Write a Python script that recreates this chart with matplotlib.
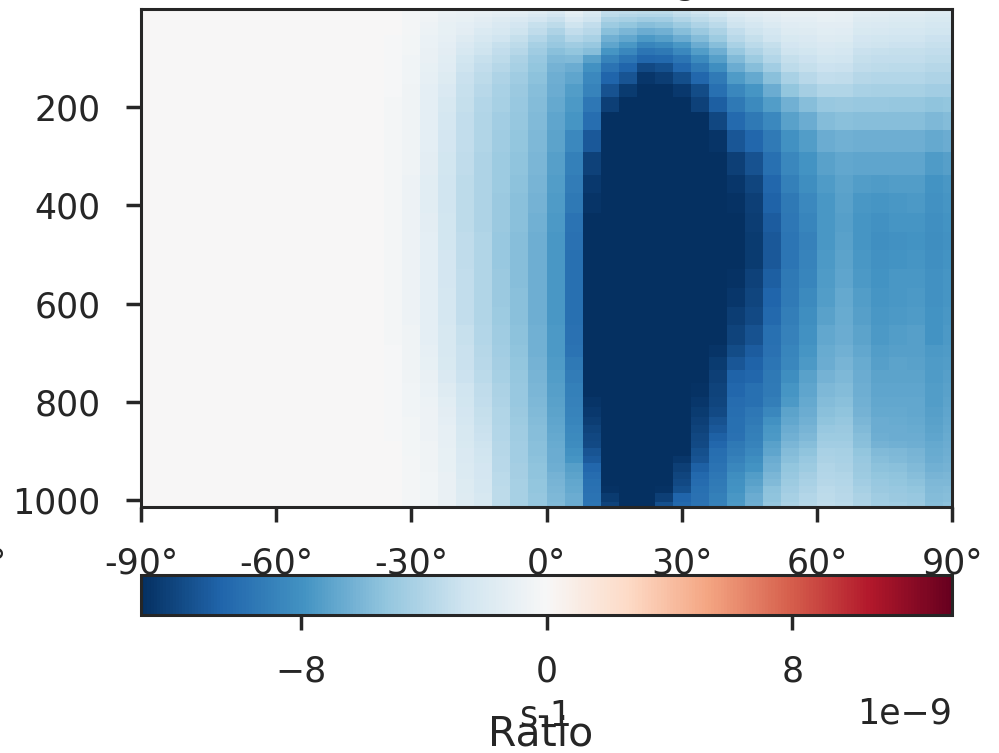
import numpy as np
import matplotlib
matplotlib.use('Agg')
import matplotlib.pyplot as plt

# --- values, in units of 1e-9 s-1. ---
lat = np.arange(-90, 91, 4)

# pressure edges of the cells, top to bottom (hPa)
plev_edges = [0.5, 10.7, 16.8, 27, 39.2, 53.4, 67.7, 79.9, 94.1, 110.4, 128.8,
              153.2, 179.6, 210.2, 246.8, 291.6, 338.4, 375.1, 415.8, 454.5,
              491.1, 529.8, 568.4, 607.1, 643.8, 684.5, 708.9, 735.4, 761.8,
              790.3, 810.7, 831, 847.3, 863.6, 879.9, 894.1, 910.4, 924.7,
              943, 957.2, 971.5, 985.8, 1004, 1014]

# one list per latitude, from the top level down
ratio_by_lat = [
 [0,0,0,0,0,0,0,0,0,0,0,0,0,0,0,0,0,0,0,0,0,0,0,0,0,0,0,0,0,0,0,0,0,0,0,0,0,0,0,0,0,0,0],
 [0,0,0,0,0,0,0,0,0,0,0,0,0,0,0,0,0,0,0,0,0,0,0,0,0,0,0,0,0,0,0,0,0,0,0,0,0,0,0,0,0,0,0],
 [0,0,0,0,0,0,0,0,0,0,0,0,0,0,0,0,0,0,0,0,0,0,0,0,0,0,0,0,0,0,0,0,0,0,0,0,0,0,0,0,0,0,0],
 [0,0,0,0,0,0,0,0,0,0,0,0,0,0,0,0,0,0,0,0,0,0,0,0,0,0,0,0,0,0,0,0,0,0,0,0,0,0,0,0,0,0,0],
 [0,0,0,0,0,0,0,0,0,0,0,0,0,0,0,0,0,0,0,0,0,0,0,0,0,0,0,0,0,0,0,0,0,0,0,0,0,0,0,0,0,0,0],
 [0,0,0,0,0,0,0,0,0,0,0,0,0,0,0,0,0,0,0,0,0,0,0,0,0,0,0,0,0,0,0,0,0,0,0,0,0,0,0,0,0,0,0],
 [0,0,0,0,0,0,0,0,0,0,0,0,0,0,0,0,0,0,0,0,0,0,0,0,0,0,0,0,0,0,0,0,0,0,0,0,0,0,0,0,0,0,0],
 [0,0,0,0,0,0,0,0,0,0,0,0,0,0,0,0,0,0,0,0,0,0,0,0,0,0,0,0,0,0,0,0,0,0,0,0,0,0,0,0,0,0,0],
 [0,0,0,0,0,0,0,0,0,0,0,0,0,0,0,0,0,0,0,0,0,0,0,0,0,0,0,0,0,0,0,0,0,0,0,0,0,0,0,0,0,0,0],
 [0,0,0,0,0,0,0,0,0,0,0,0,0,0,0,0,0,0,0,0,0,0,.1,.1,.1,.1,.1,.1,.1,.1,.1,0,0,0,0,0,0,0,0,0,0,0,0],
 [0,0,0,0,0,0,0,0,0,0,0,0,0,0,0,0,0,0,0,.1,.1,.1,.1,.1,.1,.1,.1,.1,.1,.1,.1,.1,.1,.1,.1,.1,.1,.1,.1,.1,.1,.1,.1],
 [0,0,0,0,0,0,0,0,0,0,0,0,0,0,0,0,0,0,0,.1,.1,.1,.1,.1,.1,.1,.1,.1,.1,.1,.1,.1,.1,.1,.1,.1,.1,.1,.1,.1,.1,.1,.1],
 [0,0,0,0,0,0,0,0,0,0,0,0,0,0,0,0,0,0,0,0,0,.1,.1,.1,.1,.1,.1,.1,.1,.1,.1,.1,.1,.1,.1,.1,.1,.1,.1,.1,.1,.1,.1],
 [0,0,0,0,0,0,0,0,0,0,0,0,0,0,0,0,0,0,0,0,0,0,0,0,0,0,0,0,0,0,0,0,0,0,0,0,0,0,0,0,0,0,0],
 [0,0,0,0,0,-.2,-.2,-.2,-.2,-.2,-.2,-.2,-.3,-.3,-.3,-.3,-.3,-.3,-.3,-.3,-.3,-.3,-.3,-.3,-.3,-.2,-.2,-.2,-.2,-.2,-.2,-.2,-.2,-.2,0,0,0,0,0,0,0,0,0],
 [-.3,-.3,-.3,-.3,-.3,-.4,-.4,-.4,-.5,-.5,-.5,-.6,-.6,-.6,-.6,-.6,-.7,-.7,-.7,-.7,-.7,-.7,-.7,-.7,-.6,-.6,-.6,-.6,-.5,-.5,-.5,-.4,-.4,-.4,-.4,-.4,-.3,-.3,-.3,-.3,-.3,-.3,-.3],
 [-.5,-.5,-.6,-.7,-.8,-.9,-.9,-1,-1,-1.1,-1.2,-1.3,-1.3,-1.3,-1.3,-1.4,-1.5,-1.5,-1.4,-1.3,-1.3,-1.3,-1.3,-1.3,-1.3,-1.2,-1.1,-1,-.9,-.8,-.7,-.7,-.7,-.7,-.6,-.6,-.6,-.6,-.5,-.5,-.5,-.5,-.5],
 [-.8,-.9,-1,-1.1,-1.1,-1.2,-1.3,-1.4,-1.5,-1.6,-1.8,-2,-2.2,-2.3,-2.4,-2.5,-2.6,-2.6,-2.5,-2.5,-2.4,-2.4,-2.3,-2.3,-2.2,-2.2,-2.1,-2,-1.7,-1.5,-1.4,-1.3,-1.2,-1.2,-1.2,-1.1,-1.1,-1.1,-1,-1,-1,-1,-1],
 [-.9,-1,-1.1,-1.3,-1.4,-1.7,-2,-2.2,-2.5,-2.7,-2.9,-3,-3.1,-3.2,-3.3,-3.4,-3.5,-3.5,-3.5,-3.4,-3.4,-3.3,-3.2,-3.2,-3,-2.9,-2.9,-2.8,-2.6,-2.5,-2.4,-2.3,-2.2,-2.2,-2.1,-2,-2,-1.9,-1.9,-1.8,-1.8,-1.7,-1.7],
 [-1,-1.2,-1.4,-1.6,-1.9,-2.2,-2.5,-2.7,-3,-3.2,-3.5,-3.7,-3.9,-4,-4,-4.1,-4.1,-4.1,-4.1,-4,-4,-4,-4,-4,-3.9,-3.8,-3.7,-3.6,-3.4,-3.2,-3.1,-3,-2.9,-2.8,-2.7,-2.6,-2.5,-2.4,-2.4,-2.3,-2.3,-2.2,-2.2],
 [-1.2,-1.4,-1.7,-2,-2.2,-2.6,-3,-3.2,-3.5,-3.8,-4.1,-4.3,-4.4,-4.6,-4.7,-4.8,-4.8,-4.9,-4.9,-5,-5,-4.9,-4.9,-4.8,-4.7,-4.6,-4.5,-4.4,-4.2,-4.1,-4,-4,-3.9,-3.9,-3.8,-3.8,-3.7,-3.7,-3.6,-3.6,-3.5,-3.5,-3.5],
 [-1.3,-1.6,-2,-2.4,-2.7,-3.1,-3.5,-3.8,-4.2,-4.4,-4.7,-4.9,-5,-5.1,-5.2,-5.3,-5.4,-5.5,-5.5,-5.6,-5.6,-5.6,-5.5,-5.5,-5.4,-5.3,-5.2,-5.1,-5,-5,-4.9,-4.8,-4.7,-4.7,-4.6,-4.6,-4.6,-4.5,-4.5,-4.4,-4.4,-4.4,-4.4],
 [-1.6,-2,-2.4,-3,-3.4,-3.9,-4.4,-4.7,-5,-5.2,-5.4,-5.6,-5.7,-5.8,-5.9,-6,-6.1,-6.2,-6.3,-6.4,-6.4,-6.4,-6.4,-6.4,-6.3,-6.3,-6.2,-6.1,-6,-5.9,-5.8,-5.7,-5.6,-5.6,-5.5,-5.5,-5.4,-5.3,-5.3,-5.2,-5.2,-5.1,-5.1],
 [-2,-2.4,-2.9,-3.5,-4.1,-4.7,-5,-5.5,-5.9,-6.2,-6.4,-6.6,-6.8,-7,-7.1,-7.3,-7.4,-7.5,-7.6,-7.7,-7.7,-7.7,-7.7,-7.7,-7.6,-7.6,-7.5,-7.4,-7.3,-7.2,-7.1,-7,-6.9,-6.8,-6.7,-6.6,-6.5,-6.4,-6.2,-6.1,-6,-5.9,-5.8],
 [-1.2,-1.5,-2,-2.7,-3.2,-3.9,-4.7,-5.2,-5.8,-6.5,-7,-7.4,-7.6,-7.8,-8.5,-9,-9.2,-9.4,-9.7,-9.8,-9.9,-9.9,-9.9,-10,-9.8,-9.7,-9.4,-9.2,-9,-8.9,-8.8,-8.7,-8.5,-8.4,-8.3,-8,-7.8,-7.3,-7.1,-6.9,-6.8,-6.6,-6.5],
 [-1.9,-2.2,-2.6,-3.2,-3.7,-4.3,-5,-5.6,-7.2,-8,-8.5,-8.8,-9.5,-10.1,-11.2,-12.3,-12.7,-12.9,-13.1,-13.2,-13.2,-13.2,-13.2,-13.2,-13.2,-13.2,-13.2,-13.2,-13.1,-12.9,-12.7,-12.5,-12.2,-12,-11.9,-11.4,-11.1,-10.5,-10.2,-10,-9.8,-9.7,-9.6],
 [-3.2,-3.5,-4.2,-4.8,-5.5,-6.3,-7,-7.8,-8.8,-9.7,-10.6,-11.5,-12.4,-13.1,-13.2,-13.2,-13.2,-13.2,-13.2,-13.2,-13.2,-13.2,-13.2,-13.2,-13.2,-13.2,-13.2,-13.2,-13.2,-13.2,-13.2,-13.2,-13.2,-13.2,-13.2,-13.2,-13.2,-13.2,-13.2,-13.2,-13,-12.6,-12.2],
 [-3.4,-3.8,-4.4,-5.2,-6,-6.9,-7.7,-8.6,-9.6,-10.6,-11.4,-12.6,-13.2,-13.2,-13.2,-13.2,-13.2,-13.2,-13.2,-13.2,-13.2,-13.2,-13.2,-13.2,-13.2,-13.2,-13.2,-13.2,-13.2,-13.2,-13.2,-13.2,-13.2,-13.2,-13.2,-13.2,-13.2,-13.2,-13.2,-13.2,-13.2,-13.2,-13.2],
 [-3.5,-3.9,-4.7,-5.6,-6.6,-7.6,-8.7,-9.6,-10.5,-11.9,-12.8,-13.2,-13.2,-13.2,-13.2,-13.2,-13.2,-13.2,-13.2,-13.2,-13.2,-13.2,-13.2,-13.2,-13.2,-13.2,-13.2,-13.2,-13.2,-13.2,-13.2,-13.2,-13.2,-13.2,-13.2,-13.2,-13.2,-13.2,-13.2,-13.2,-13.2,-13.2,-13.2],
 [-3.5,-3.9,-4.6,-5.4,-6.3,-7.3,-8.4,-9.4,-10.4,-11.6,-12.5,-13.2,-13.2,-13.2,-13.2,-13.2,-13.2,-13.2,-13.2,-13.2,-13.2,-13.2,-13.2,-13.2,-13.2,-13.2,-13.2,-13.2,-13.2,-13.2,-13.2,-13.2,-13.2,-13.2,-13.2,-13.2,-13.2,-13.2,-13.2,-13.2,-13,-12.4,-11.6],
 [-3,-3.4,-4,-4.8,-5.6,-6.6,-7.7,-8.5,-9.6,-10.5,-11.7,-12.7,-13.2,-13.2,-13.2,-13.2,-13.2,-13.2,-13.2,-13.2,-13.2,-13.2,-13.2,-13.2,-13.2,-13.2,-13.2,-13.2,-13.2,-13.2,-13.2,-13.2,-13.2,-13.2,-13.2,-13.2,-12.8,-12.4,-12.1,-11.9,-11.6,-10.6,-10.4],
 [-2.6,-3,-3.5,-4.1,-4.9,-5.7,-6.5,-7.4,-8.4,-9.4,-10.5,-11.8,-12.3,-13.1,-13.2,-13.2,-13.2,-13.2,-13.2,-13.2,-13.2,-13.2,-13.2,-13.2,-13.2,-13.2,-13.2,-13.2,-13,-12.8,-12.6,-12.4,-12.2,-12,-11.9,-11.6,-11.4,-10.8,-10.4,-10.2,-9.9,-9.8,-9.7],
 [-2.2,-2.5,-3,-3.6,-4.2,-4.8,-5.6,-6.4,-7.3,-8.2,-9.3,-9.9,-10.9,-12,-12.9,-13.2,-13.2,-13.2,-13.2,-13.2,-13.2,-13.2,-13.2,-13.2,-13.2,-12.9,-12.6,-12.4,-12.2,-12.1,-11.9,-11.5,-11.2,-10.8,-10.5,-10.1,-9.9,-9.7,-9.5,-9.3,-9.2,-9,-8.9],
 [-1.6,-1.9,-2.3,-2.7,-3.2,-3.7,-4.3,-5,-5.8,-6.5,-7.5,-8.6,-9.4,-10.3,-11.3,-12.4,-12.8,-13,-13.1,-13.2,-13.1,-13,-12.8,-12.5,-12.2,-11.8,-11.3,-10.7,-10.5,-10.2,-10.1,-10,-9.9,-9.8,-9.4,-9.2,-8.9,-8.6,-8.2,-8,-7.9,-7.7,-7.6],
 [-1.4,-1.6,-1.9,-2.3,-2.7,-3.1,-3.6,-4.1,-4.8,-5.6,-6.8,-7.8,-8.4,-9.4,-10.5,-11.5,-12.1,-12.4,-12.5,-12.6,-12.6,-12.3,-12.1,-11.9,-11.5,-11,-10.7,-10.5,-10,-10,-9.5,-9.3,-9.1,-9,-8.8,-8.5,-8.2,-7.9,-7.4,-7.2,-6.9,-6.6,-6.4],
 [-1.2,-1.4,-1.6,-1.9,-2.3,-2.6,-3.1,-3.5,-3.9,-4.6,-5.5,-6.5,-7.4,-8.5,-9.3,-10,-10.5,-10.7,-11,-11.2,-11.2,-10.9,-10.6,-10.4,-10,-9.8,-9.6,-9.4,-9.3,-9.1,-8.6,-8,-7.7,-7.6,-7.2,-7,-6.6,-6.3,-6,-5.8,-5.4,-5.3,-5.1],
 [-1,-1.1,-1.3,-1.6,-1.8,-2.1,-2.4,-2.7,-3.1,-3.5,-4.3,-5.2,-6.3,-7.2,-8,-8.6,-9,-9.4,-9.5,-9.6,-9.6,-9.4,-9.3,-9.1,-8.9,-8.7,-8.6,-8.2,-7.8,-7.6,-7.1,-6.9,-6.6,-6.3,-6,-5.7,-5.5,-5.2,-5,-4.8,-4.6,-4.4,-4.2],
 [-1,-1.1,-1.3,-1.5,-1.7,-2,-2.2,-2.5,-2.8,-3.1,-3.7,-4.5,-5.6,-6.6,-7.4,-7.9,-8.2,-8.5,-8.7,-8.9,-8.8,-8.7,-8.4,-8.2,-8,-7.8,-7.6,-7.2,-7,-6.8,-6.6,-6.3,-6.1,-5.9,-5.6,-5.3,-5,-4.8,-4.5,-4.3,-4.1,-3.9,-3.8],
 [-.9,-1,-1.1,-1.4,-1.5,-1.7,-2,-2.2,-2.5,-2.8,-3.3,-4,-5,-5.7,-6.6,-7.2,-7.5,-7.7,-7.7,-7.7,-7.6,-7.5,-7.4,-7.2,-6.9,-6.7,-6.5,-6.2,-5.9,-5.7,-5.5,-5.3,-5,-4.8,-4.6,-4.3,-4.2,-4,-3.9,-3.8,-3.6,-3.5,-3.4],
 [-1,-1.1,-1.2,-1.4,-1.6,-1.8,-2.1,-2.3,-2.6,-2.9,-3.4,-4,-4.9,-5.5,-6.3,-6.9,-7.1,-7.2,-7.3,-7.2,-7.1,-7,-6.8,-6.7,-6.5,-6.3,-6.1,-5.9,-5.7,-5.5,-5.3,-5.1,-4.9,-4.8,-4.6,-4.4,-4.3,-4.2,-4,-3.9,-3.8,-3.7,-3.6],
 [-1.3,-1.5,-1.7,-1.9,-2.1,-2.4,-2.6,-2.9,-3.1,-3.4,-3.8,-4.3,-5,-5.6,-6.4,-7,-7.4,-7.7,-7.8,-7.8,-7.7,-7.6,-7.4,-7.3,-7.1,-6.9,-6.7,-6.6,-6.4,-6.3,-6.2,-6,-5.8,-5.6,-5.5,-5.2,-5,-4.9,-4.8,-4.6,-4.4,-4.2,-4.1],
 [-1.4,-1.6,-1.8,-2,-2.2,-2.5,-2.7,-3,-3.2,-3.5,-3.9,-4.4,-5,-5.6,-6.4,-7,-7.5,-7.8,-8,-8.1,-8,-7.9,-7.8,-7.7,-7.6,-7.4,-7.3,-7.1,-7,-6.9,-6.8,-6.6,-6.5,-6.4,-6.2,-5.8,-5.6,-5.4,-5.2,-5,-4.9,-4.7,-4.6],
 [-1.5,-1.7,-1.9,-2.1,-2.3,-2.6,-2.8,-3.1,-3.3,-3.6,-3.9,-4.4,-5.1,-5.6,-6.4,-7,-7.4,-7.7,-7.8,-8,-7.9,-7.7,-7.7,-7.6,-7.4,-7.3,-7.1,-7.1,-7,-6.9,-6.8,-6.7,-6.6,-6.5,-6.3,-5.9,-5.8,-5.5,-5.3,-5.2,-5,-4.9,-4.7],
 [-1.5,-1.7,-1.9,-2.1,-2.3,-2.6,-2.8,-3.1,-3.3,-3.6,-3.9,-4.4,-5.1,-5.6,-6.4,-7,-7.4,-7.6,-7.8,-7.9,-7.8,-7.7,-7.6,-7.5,-7.3,-7.3,-7.2,-7.1,-7,-6.9,-6.9,-6.8,-6.7,-6.5,-6.4,-6.1,-6,-5.8,-5.6,-5.4,-5.2,-5,-4.9],
 [-1.7,-1.9,-2.1,-2.3,-2.5,-2.8,-3,-3.3,-3.5,-3.8,-4.1,-4.6,-5.3,-5.9,-6.8,-7.5,-7.9,-8,-8.1,-8.2,-8.1,-8,-8,-7.9,-7.9,-7.6,-7.5,-7.5,-7.4,-7.4,-7.3,-7.2,-7.1,-7,-6.8,-6.7,-6.5,-6.3,-6.1,-5.9,-5.8,-5.7,-5.6],
 [-1.7,-1.9,-2.1,-2.3,-2.5,-2.8,-3,-3.3,-3.5,-3.8,-4.1,-4.6,-5.2,-5.7,-6.6,-7.3,-7.7,-7.8,-7.9,-8,-7.9,-7.8,-7.8,-7.7,-7.6,-7.5,-7.4,-7.3,-7.2,-7.1,-7,-6.9,-6.8,-6.7,-6.6,-6.4,-6.3,-6.2,-6,-5.9,-5.7,-5.6,-5.4],
]

xticks = [-90, -60, -30, 0, 30, 60, 90]
xticklabels = ['-90°', '-60°', '-30°', '0°', '30°', '60°', '90°']
yticks = [200, 400, 600, 800, 1000]
cbar_ticks = [-8e-9, 0, 8e-9]
cbar_ticklabels = ['\u22128', '0', '8']
vlim = 13.2e-9

W, H = 999, 753
dark = '#262626'

plt.rcParams['font.family'] = 'DejaVu Sans'
plt.rcParams['font.size'] = 25
plt.rcParams['text.color'] = dark
plt.rcParams['axes.edgecolor'] = dark
plt.rcParams['axes.linewidth'] = 2.2
plt.rcParams['xtick.color'] = dark
plt.rcParams['ytick.color'] = dark


def px_axes(fig, left, top, right, bottom):
    return fig.add_axes([left / W, 1 - bottom / H, (right - left) / W, (bottom - top) / H])


def px_text(fig, x, y, s, **kwargs):
    return fig.text(x / W, 1 - y / H, s, **kwargs)


fig = plt.figure(figsize=(W / 100, H / 100), dpi=100)
ax = px_axes(fig, 141, 9, 952, 507)
cax = px_axes(fig, 141, 575, 952, 615)

# half a cell sticks out past +-90 and gets cut by the limits
lat_edges = np.append(lat - 2, lat[-1] + 2)
ratio = np.array(ratio_by_lat).T * 1e-9
mesh = ax.pcolormesh(lat_edges, plev_edges, ratio, cmap='RdBu_r',
                     vmin=-vlim, vmax=vlim)
ax.set_xlim(-90, 90)
ax.set_ylim(1014, 0.5)
ax.set_xticks(xticks)
ax.set_xticklabels(xticklabels)
ax.set_yticks(yticks)
ax.tick_params(axis='x', length=10.8, width=2.5, pad=18)
ax.tick_params(axis='y', length=10.8, width=2.5, pad=18.5)

cb = fig.colorbar(mesh, cax=cax, orientation='horizontal', ticks=cbar_ticks)
cb.set_ticklabels(cbar_ticklabels)
cb.ax.tick_params(length=10.8, width=2.5, pad=18)
cb.outline.set_linewidth(2.2)
cb.outline.set_edgecolor(dark)

# bits that the original crop leaves in the frame
px_text(fig, 685, -6, 'g', ha='center', va='baseline')
px_text(fig, 6, 574, '°', ha='right', va='baseline')
px_text(fig, 952, 723, '1e\u22129', ha='right', va='baseline')
px_text(fig, 546, 725, 's-1', ha='center', va='baseline')
px_text(fig, 541, 745, 'Ratio', ha='center', va='baseline', fontsize=29.5)

fig.savefig('out.png', dpi=100)
